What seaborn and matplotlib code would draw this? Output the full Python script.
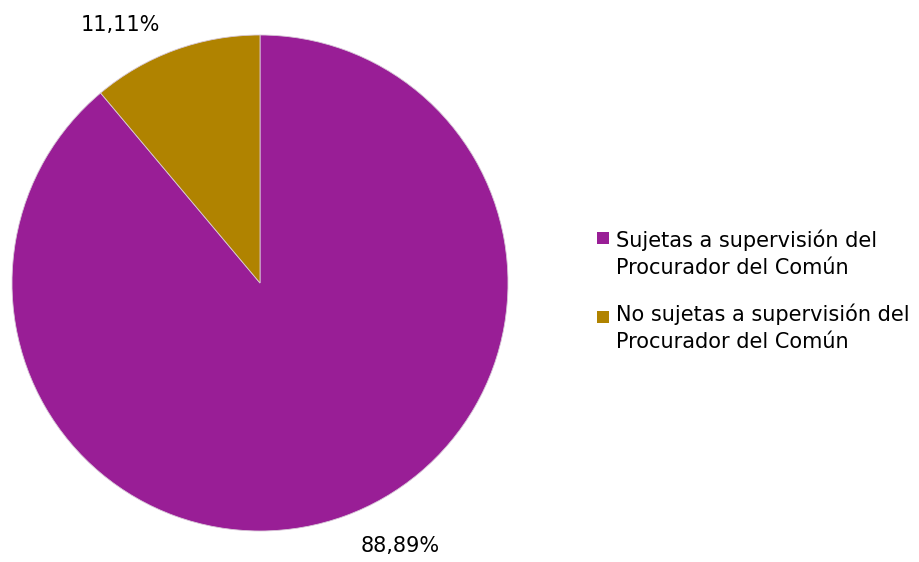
import matplotlib
matplotlib.use("Agg")
import matplotlib.pyplot as plt
from matplotlib.patches import Rectangle
import seaborn as sns

categories = ["Sujetas a supervisión del\nProcurador del Común",
              "No sujetas a supervisión del\nProcurador del Común"]
values = [88.89, 11.11]
colors = ["#991E96", "#B08300"]

sns.set_theme(style="white")
plt.rcParams["font.family"] = ["DejaVu Sans"]

fig = plt.figure(figsize=(9.2, 5.62), dpi=100)
fig.patch.set_facecolor("white")

W, H = 920, 562
cx, cy, r = 260, 283, 248
ax = fig.add_axes([(cx - r) / W, (H - cy - r) / H, 2 * r / W, 2 * r / H])
ax.pie(values, colors=colors, startangle=90, counterclock=False,
       radius=1.0, wedgeprops=dict(linewidth=0.6, edgecolor="#d8c8d8"))
ax.set_xlim(-1, 1)
ax.set_ylim(-1, 1)
ax.set_aspect("equal")
ax.axis("off")

def fmt(v):
    return f"{v:.2f}".replace(".", ",") + "%"

# value labels for each slice
ax.text(0.565, -1.06, fmt(values[0]), ha="center", va="center",
        fontsize=15, color="black", clip_on=False)
ax.text(-0.565, 1.042, fmt(values[1]), ha="center", va="center",
        fontsize=15, color="black", clip_on=False)

# legend entries: marker beside the first line of each two-line label
block_centers = [254, 328]
marker_centers = [238, 317]
for lab, col, yc, ym in zip(categories, colors, block_centers, marker_centers):
    fig.patches.append(Rectangle((597 / W, (H - ym - 6) / H), 12 / W, 12 / H,
                                 transform=fig.transFigure, facecolor=col,
                                 edgecolor="none"))
    fig.text(616 / W, (H - yc) / H, lab, ha="left", va="center",
             fontsize=15, color="black", linespacing=1.45)

fig.savefig("out.png", dpi=100, facecolor="white")
